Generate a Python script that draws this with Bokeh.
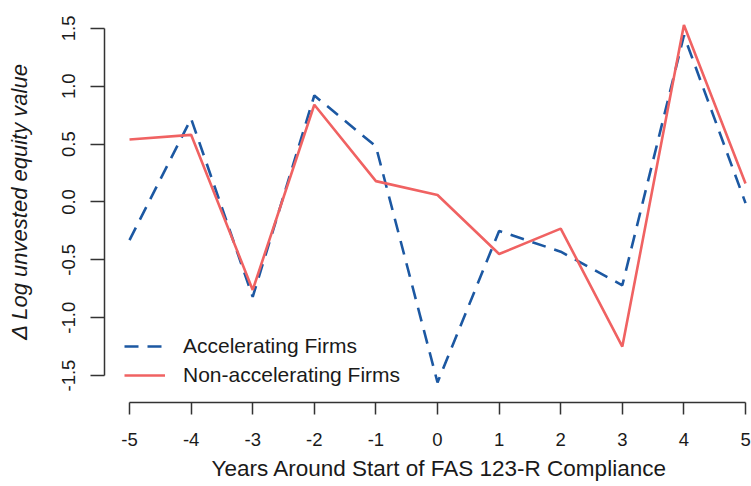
from bokeh.plotting import figure
from bokeh.models import Range1d, FixedTicker, Legend, LegendItem, Title
from bokeh.embed import file_html
from bokeh.resources import INLINE

years = [-5, -4, -3, -2, -1, 0, 1, 2, 3, 4, 5]
accelerating = [-0.33, 0.72, -0.82, 0.92, 0.48, -1.56, -0.25, -0.43, -0.72, 1.44, -0.01]
non_accelerating = [0.54, 0.58, -0.76, 0.84, 0.18, 0.06, -0.45, -0.23, -1.25, 1.53, 0.16]

x_ticks = [-5, -4, -3, -2, -1, 0, 1, 2, 3, 4, 5]
x_tick_labels = ["-5", "-4", "-3", "-2", "-1", "0", "1", "2", "3", "4", "5"]
y_ticks = [-1.5, -1.0, -0.5, 0.0, 0.5, 1.0, 1.5]
y_tick_labels = ["-1.5", "-1.0", "-0.5", "0.0", "0.5", "1.0", "1.5"]

x_title = "Years Around Start of FAS 123-R Compliance"
y_title = "\u0394 Log unvested equity value"
series_names = ["Accelerating Firms", "Non-accelerating Firms"]

FONT = "Liberation Sans"
BLUE = "#1c58a2"
RED = "#f06262"
AXIS = "#333333"
TEXT = "#1a1a1a"

p = figure(width=751, height=486, output_backend="svg", toolbar_location=None,
           x_range=Range1d(-5.406, 5.097), y_range=Range1d(-1.733, 1.741),
           min_border_left=104, min_border_right=0, min_border_top=0, min_border_bottom=83)
p.title.visible = False
p.outline_line_color = None
p.xgrid.visible = False
p.ygrid.visible = False
p.background_fill_color = "white"
p.border_fill_color = "white"

r_acc = p.line(years, accelerating, line_color=BLUE, line_width=2.6, line_dash="14 9")
r_non = p.line(years, non_accelerating, line_color=RED, line_width=2.6)

xa = p.xaxis[0]
xa.bounds = (x_ticks[0], x_ticks[-1])
xa.ticker = FixedTicker(ticks=x_ticks, minor_ticks=[])
xa.major_label_overrides = {t: l for t, l in zip(x_ticks, x_tick_labels)}
xa.axis_line_color = AXIS
xa.axis_line_width = 1.5
xa.major_tick_line_color = AXIS
xa.major_tick_line_width = 1.5
xa.major_tick_out = 12
xa.major_tick_in = 0
xa.minor_tick_line_color = None
xa.major_label_standoff = 18
xa.major_label_text_font = FONT
xa.major_label_text_font_size = "18.5px"
xa.major_label_text_color = TEXT

ya = p.yaxis[0]
ya.bounds = (y_ticks[0], y_ticks[-1])
ya.ticker = FixedTicker(ticks=y_ticks, minor_ticks=[])
ya.major_label_overrides = {t: l for t, l in zip(y_ticks, y_tick_labels)}
ya.major_label_orientation = "vertical"
ya.axis_line_color = AXIS
ya.axis_line_width = 1.5
ya.major_tick_line_color = AXIS
ya.major_tick_line_width = 1.5
ya.major_tick_out = 14
ya.major_tick_in = 0
ya.minor_tick_line_color = None
ya.major_label_standoff = 15
ya.major_label_text_font = FONT
ya.major_label_text_font_size = "18.5px"
ya.major_label_text_color = TEXT
ya.axis_label = y_title
ya.axis_label_standoff = 28
ya.axis_label_text_font = FONT
ya.axis_label_text_font_size = "22px"
ya.axis_label_text_font_style = "italic"
ya.axis_label_text_color = TEXT

p.add_layout(Title(text=x_title, align="left", offset=107, text_font=FONT,
                   text_font_size="22.5px", text_font_style="normal", text_color=TEXT,
                   standoff=11, vertical_align="bottom"), "below")

legend = Legend(items=[LegendItem(label=series_names[0], renderers=[r_acc]),
                       LegendItem(label=series_names[1], renderers=[r_non])],
                location=(20, 15), glyph_width=41, glyph_height=20, label_height=20,
                spacing=5, label_standoff=18, padding=5, margin=0,
                label_text_font=FONT, label_text_font_size="21px", label_text_color=TEXT,
                border_line_color=None, background_fill_color="white", background_fill_alpha=0.9)
p.add_layout(legend)

open("out.html", "w").write(file_html(p, INLINE))
